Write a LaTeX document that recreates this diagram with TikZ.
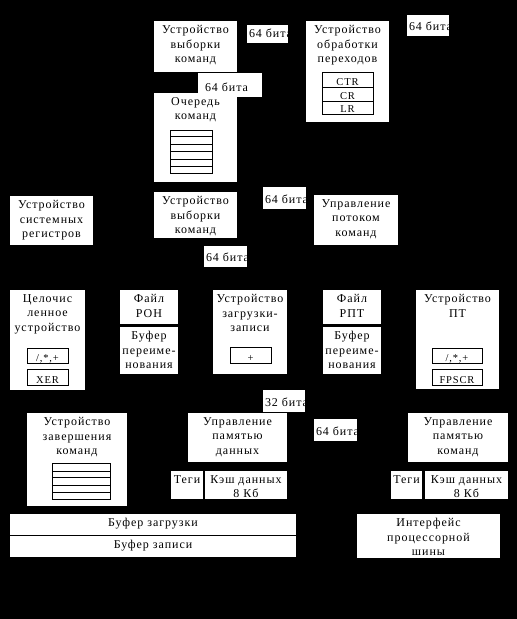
\documentclass[tikz,border=0pt]{standalone}
\usepackage{fontspec}
\setmainfont{Liberation Serif}[LetterSpace=8]
\tikzset{
  bt/.style={inner sep=0pt, outer sep=0pt, align=center, text=black,
    font=\fontsize{12}{14.5}\selectfont},
  lt/.style={inner sep=0pt, outer sep=0pt, text=black,
    font=\fontsize{12}{14.5}\selectfont},
  st/.style={inner sep=0pt, outer sep=0pt, text=black,
    font=\fontsize{10.5}{12}\selectfont},
  tb/.style={draw=black, line width=1.1pt},
  tl/.style={draw=black, line width=1pt}
}
% box: name x1 y1 x2 y2 text
\newcommand\bx[6]{%
  \path[fill=white] (#2,#3) rectangle (#4,#5);
  \begin{scope}
    \clip (#2,#3) rectangle (#4,#5);
    \node[bt, anchor=north] (#1) at ({(#2+#4)/2},#3+4.5) {#6};
  \end{scope}}
% label: name x1 y1 x2 y2 text
\newcommand\lb[6]{%
  \path[fill=white] (#2,#3) rectangle (#4,#5);
  \begin{scope}
    \clip (#2,#3) rectangle (#4,#5);
    \node[lt, anchor=base west] (#1) at (#2+2,#5-6) {#6};
  \end{scope}}
% small framed cell: name x1 y1 x2 y2 text
\newcommand\cell[6]{%
  \begin{scope}
    \clip (#2,#3) rectangle (#4,#5);
    \node[st, anchor=base] (#1) at ({(#2+#4)/2},#5-2) {#6};
  \end{scope}
  \draw[tl] (#2,#3) rectangle (#4,#5);}
\begin{document}
\begin{tikzpicture}[x=1pt,y=-1pt]
\fill[black] (0,0) rectangle (517,619);
\useasboundingbox (0,0) rectangle (517,619);

% top row
\bx{fetch1}{154}{21}{237}{72}{Устройство\\выборки\\команд}
\lb{l1}{247}{25}{288}{43}{64 бита}
\bx{branch}{306}{21}{389}{122}{Устройство\\обработки\\переходов}
\cell{ctr}{322}{72}{373}{87}{CTR}
\cell{cr}{322}{87}{373}{101}{CR}
\cell{lr}{322}{101}{373}{114}{LR}
\lb{l2}{407}{15}{449}{36}{64 бита}

% queue
\lb{l3}{198}{73}{262}{97}{\hspace{5pt}64 бита}
\bx{queue}{154}{93}{237}{182}{Очередь\\команд}
\draw[tl] (170,130) rectangle (212,173);
\foreach \yy in {136,144,151,159,166} \draw[tl] (170,\yy) -- (212,\yy);

% second fetch row
\bx{fetch2}{154}{192}{237}{238}{Устройство\\выборки\\команд}
\lb{l4}{263}{187}{306}{209}{64 бита}
\bx{flow}{314}{195}{398}{245}{Управление\\потоком\\команд}
\bx{sysreg}{10}{196}{93}{245}{Устройство\\системных\\регистров}
\lb{l5}{204}{246}{247}{267}{64 бита}

% execution units
\bx{intu}{10}{290}{85}{390}{Целочис\\ленное\\устройство}
\cell{imul}{27}{348}{68}{363}{/,*,+}
\cell{xer}{27}{369}{68}{385}{XER}
\bx{gpr}{120}{290}{178}{324}{Файл\\РОН}
\bx{gren}{120}{327}{178}{374}{Буфер\\переиме-\\нования}
\bx{lsu}{213}{290}{287}{374}{Устройство\\загрузки-\\записи}
\cell{ladd}{230}{347}{271}{363}{+}
\bx{fpr}{323}{290}{381}{324}{Файл\\РПТ}
\bx{fren}{323}{327}{381}{374}{Буфер\\переиме-\\нования}
\bx{fpu}{416}{290}{499}{389}{Устройство\\ПТ}
\cell{fmul}{432}{348}{482}{363}{/,*,+}
\cell{fpscr}{432}{369}{482}{385}{FPSCR}

% lower part
\lb{l6}{263}{390}{305}{412}{32 бита}
\lb{l7}{314}{419}{357}{441}{64 бита}
\bx{compl}{27}{413}{127}{506}{Устройство\\завершения\\команд}
\draw[tl] (52,463) rectangle (110,499);
\foreach \yy in {471,477,485,492} \draw[tl] (52,\yy) -- (110,\yy);
\bx{dmmu}{188}{413}{287}{462}{Управление\\памятью\\данных}
\bx{dtags}{171}{471}{203}{499}{Теги}
\bx{dcache}{205}{471}{287}{499}{Кэш данных\\8 Кб}
\bx{immu}{408}{413}{508}{462}{Управление\\памятью\\команд}
\bx{itags}{391}{471}{422}{499}{Теги}
\bx{icache}{425}{471}{508}{499}{Кэш данных\\8 Кб}
\bx{loadbuf}{10}{514}{296}{535}{Буфер загрузки}
\bx{storebuf}{10}{536}{296}{557}{Буфер записи}
\bx{bus}{357}{514}{500}{558}{Интерфейс\\процессорной\\шины}
\end{tikzpicture}
\end{document}
